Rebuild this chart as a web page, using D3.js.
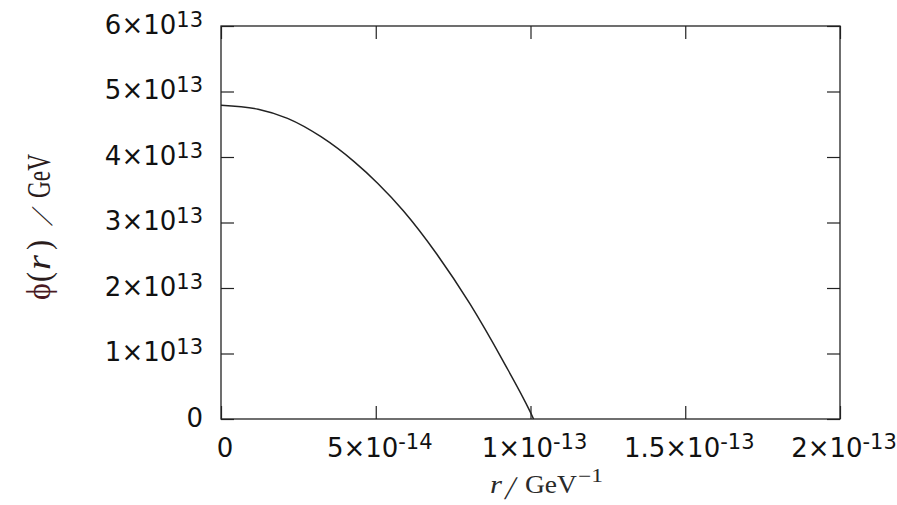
<!DOCTYPE html>
<html>
<head>
<meta charset="utf-8">
<script src="https://cdn.jsdelivr.net/npm/d3@7"></script>
<style>
  html, body { margin: 0; padding: 0; background: #fff; }
  svg { display: block; }
</style>
</head>
<body>
<svg id="chart" width="897" height="505"></svg>
<script>
// radius r in GeV^-1
const rValues = [0, 1.2e-14, 2.15e-14, 3.23e-14, 4.3e-14, 5.06e-14, 5.89e-14, 6.97e-14, 8.04e-14, 9.12e-14, 9.98e-14, 10.1e-14];
// field phi(r) in GeV
const phiValues = [4.79e13, 4.73e13, 4.59e13, 4.31e13, 3.93e13, 3.60e13, 3.18e13, 2.52e13, 1.76e13, 0.88e13, 0.12e13, 0];

const xTickValues = [0, 5e-14, 1e-13, 1.5e-13, 2e-13];
const xTickMantissa = ["0", "5×10", "1×10", "1.5×10", "2×10"];
const xTickExponent = ["", "-14", "-13", "-13", "-13"];

const yTickValues = [0, 1e13, 2e13, 3e13, 4e13, 5e13, 6e13];
const yTickMantissa = ["0", "1×10", "2×10", "3×10", "4×10", "5×10", "6×10"];
const yTickExponent = ["", "13", "13", "13", "13", "13", "13"];

const svg = d3.select("#chart");
const pLeft = 221, pRight = 840, pTop = 26, pBottom = 419;

const x = d3.scaleLinear().domain([0, 2e-13]).range([pLeft, pRight]);
const y = d3.scaleLinear().domain([0, 6e13]).range([pBottom, pTop]);

const tickLen = 13;
const axisColor = "#222";

// ticks via d3 axes (inward), on all four sides
function styleAxis(g) {
  g.select(".domain").remove();
  g.selectAll(".tick line").attr("stroke", axisColor).attr("stroke-width", 1.2);
  g.selectAll(".tick text").remove();
}
svg.append("g").attr("transform", `translate(0,${pBottom})`)
  .call(d3.axisBottom(x).tickValues(xTickValues).tickSize(-tickLen)).call(styleAxis);
svg.append("g").attr("transform", `translate(0,${pTop})`)
  .call(d3.axisTop(x).tickValues(xTickValues).tickSize(-tickLen)).call(styleAxis);
svg.append("g").attr("transform", `translate(${pLeft},0)`)
  .call(d3.axisLeft(y).tickValues(yTickValues).tickSize(-tickLen)).call(styleAxis);
svg.append("g").attr("transform", `translate(${pRight},0)`)
  .call(d3.axisRight(y).tickValues(yTickValues).tickSize(-tickLen)).call(styleAxis);

// frame
svg.append("rect")
  .attr("x", pLeft).attr("y", pTop)
  .attr("width", pRight - pLeft).attr("height", pBottom - pTop)
  .attr("fill", "none").attr("stroke", axisColor).attr("stroke-width", 1.3);

// tick labels
const tickFont = "DejaVu Sans, sans-serif";
xTickValues.forEach((v, i) => {
  const t = svg.append("text")
    .attr("x", x(v) + 4).attr("y", pBottom + 38)
    .attr("text-anchor", "middle")
    .attr("font-family", tickFont).attr("font-size", 26).attr("fill", "#111");
  t.append("tspan").text(xTickMantissa[i]);
  if (xTickExponent[i]) {
    t.append("tspan").attr("dy", -8).attr("font-size", 21).text(xTickExponent[i]);
  }
});
yTickValues.forEach((v, i) => {
  const t = svg.append("text")
    .attr("x", 203).attr("y", y(v) + 7.5)
    .attr("text-anchor", "end")
    .attr("font-family", tickFont).attr("font-size", 26).attr("fill", "#111");
  t.append("tspan").text(yTickMantissa[i]);
  if (yTickExponent[i]) {
    t.append("tspan").attr("dy", -7).attr("font-size", 21).text(yTickExponent[i]);
  }
});

// axis titles (LaTeX-like spacing)
const serif = "Liberation Serif, Times New Roman, serif";
function piece(parent, str, px, py, w, size, opts = {}) {
  const t = parent.append("text")
    .attr("font-family", serif).attr("font-size", size)
    .attr("fill", opts.fill || "#2a2a2a")
    .attr("font-style", opts.italic ? "italic" : "normal")
    .text(str);
  if (opts.skew !== undefined) {
    t.attr("transform", `translate(${px},${py}) skewX(${opts.skew})`);
  } else {
    const natural = t.node().getComputedTextLength() || w;
    t.attr("transform", `translate(${px},${py}) scale(${w / natural},1)`);
  }
  return t;
}
const xl = svg.append("g");
piece(xl, "r", 490, 493, 12, 26, { italic: true });
piece(xl, "/", 504, 499, 0, 33, { skew: -12 });
piece(xl, "GeV", 525, 493, 52, 25);
piece(xl, "−1", 578, 482, 25, 18);

const lc = "#2a1c1c";
const yl = svg.append("g").attr("transform", "translate(50,300) rotate(-90)");
piece(yl, "ϕ", 0, 0, 17, 33, { fill: "#4a1a24" });
piece(yl, "(", 18, 0, 10, 33, { fill: lc });
piece(yl, "r", 30, 0, 15, 33, { italic: true, fill: lc });
piece(yl, ")", 50, 0, 10, 33, { fill: lc });
piece(yl, "/", 74, 2, 0, 30, { skew: -30, fill: lc });
piece(yl, "GeV", 102, 0, 44, 34, { fill: lc });

// curve
const line = d3.line()
  .x((d, i) => x(rValues[i]))
  .y((d, i) => y(phiValues[i]))
  .curve(d3.curveMonotoneX);
svg.append("path")
  .datum(rValues)
  .attr("d", line)
  .attr("fill", "none")
  .attr("stroke", "#222")
  .attr("stroke-width", 1.5);
</script>
</body>
</html>
